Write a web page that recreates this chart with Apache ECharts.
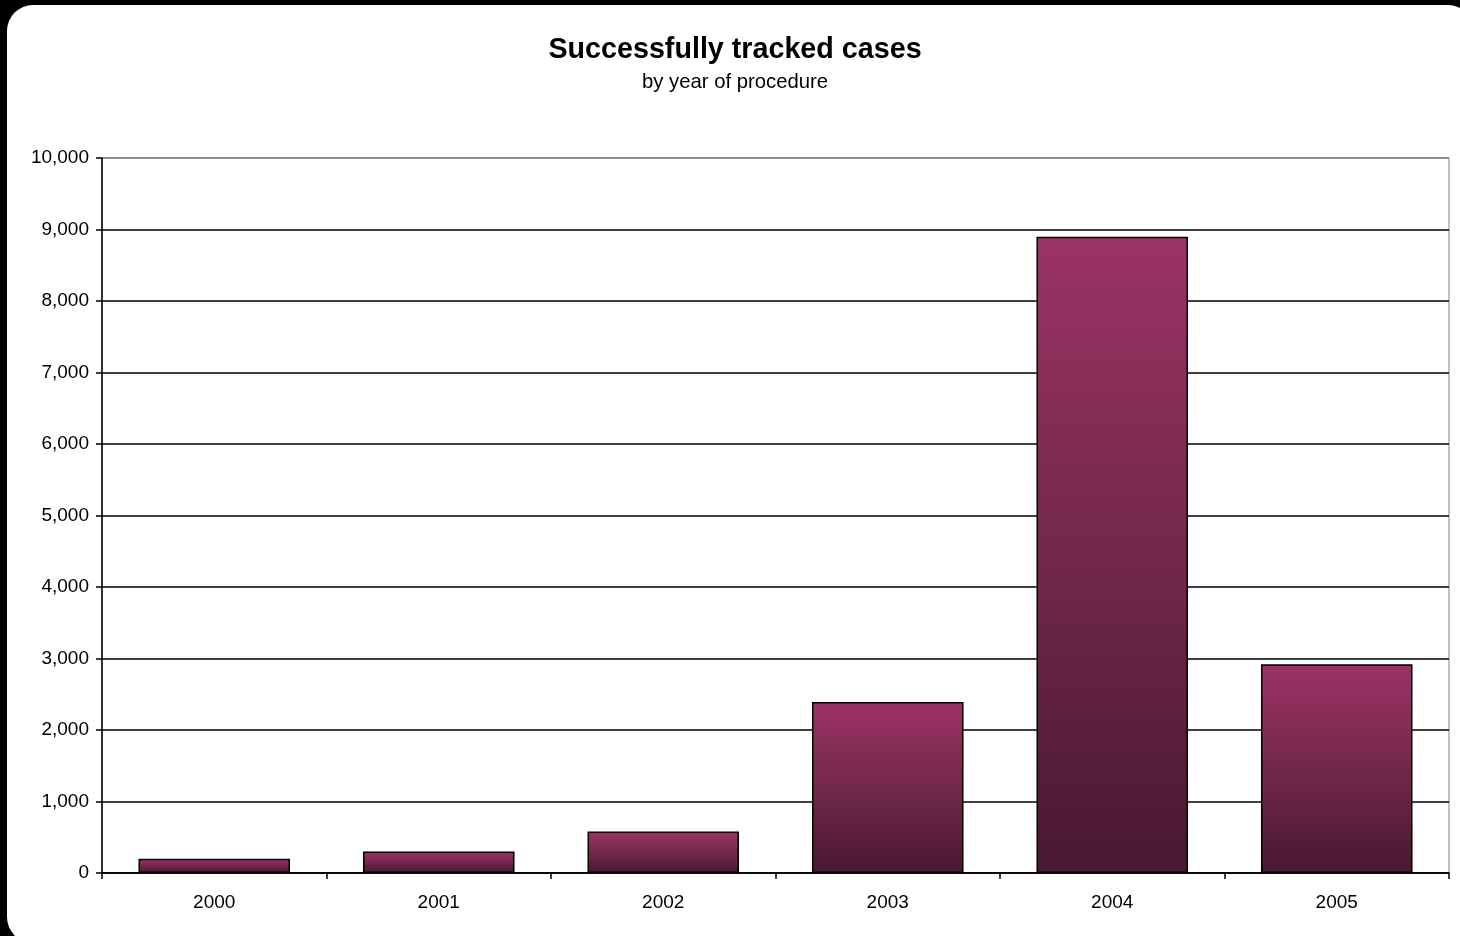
<!DOCTYPE html>
<html>
<head>
<meta charset="utf-8">
<script src="https://cdn.jsdelivr.net/npm/echarts@6/dist/echarts.min.js"></script>
<style>
  html, body { margin:0; padding:0; background:#000; width:1460px; height:936px; overflow:hidden; }
  #frame { position:absolute; left:7px; top:5px; width:1467px; height:938px; background:#fff; border-radius:26px; }
  #chart { position:absolute; left:0; top:0; width:1460px; height:936px; }
</style>
</head>
<body>
<div id="frame"></div>
<div id="chart"></div>
<script>
const categories = ['2000', '2001', '2002', '2003', '2004', '2005'];
const trackedCases = [200, 300, 580, 2390, 8900, 2920];
const yTicks = { min: 0, max: 10000, interval: 1000 };
const chartTitle = 'Successfully tracked cases';
const chartSubtitle = 'by year of procedure';

const FONT = "'Liberation Sans', Arial, sans-serif";
const chart = echarts.init(document.getElementById('chart'), null, { renderer: 'canvas' });

const splitColors = [];
for (let v = yTicks.min; v <= yTicks.max; v += yTicks.interval) {
  splitColors.push(v === yTicks.max ? '#808080' : '#000000');
}

chart.setOption({
  backgroundColor: 'transparent',
  animation: false,
  title: {
    text: chartTitle,
    subtext: chartSubtitle,
    left: 730,
    textAlign: 'center',
    top: 31,
    itemGap: 7,
    textStyle: { fontFamily: FONT, fontSize: 28.7, fontWeight: 'bold', color: '#000' },
    subtextStyle: { fontFamily: FONT, fontSize: 20.3, color: '#000' }
  },
  grid: {
    left: 102, right: 11, top: 158, bottom: 63,
    show: true, borderColor: '#808080', borderWidth: 1,
    containLabel: false
  },
  xAxis: {
    type: 'category',
    data: categories,
    axisLine: { lineStyle: { color: '#000', width: 1.5 } },
    axisTick: { show: true, length: 6, lineStyle: { color: '#000', width: 1.5 } },
    axisLabel: { fontFamily: FONT, fontSize: 19, color: '#000', margin: 20 }
  },
  yAxis: {
    type: 'value',
    min: yTicks.min, max: yTicks.max, interval: yTicks.interval,
    axisLine: { show: true, lineStyle: { color: '#000', width: 1.5 } },
    axisTick: { show: true, length: 6, lineStyle: { color: '#000', width: 1.5 } },
    axisLabel: {
      fontFamily: FONT, fontSize: 19, color: '#000', margin: 13,
      formatter: v => v.toLocaleString('en-US')
    },
    splitLine: { show: true, lineStyle: { color: splitColors, width: 1.5 } }
  },
  series: [{
    type: 'bar',
    data: trackedCases,
    barWidth: '67.5%',
    itemStyle: {
      borderColor: '#000',
      borderWidth: 1.5,
      color: new echarts.graphic.LinearGradient(0, 0, 0, 1, [
        { offset: 0, color: '#9B3366' },
        { offset: 0.5, color: '#722849' },
        { offset: 1, color: '#481832' }
      ])
    }
  }]
});
</script>
</body>
</html>
